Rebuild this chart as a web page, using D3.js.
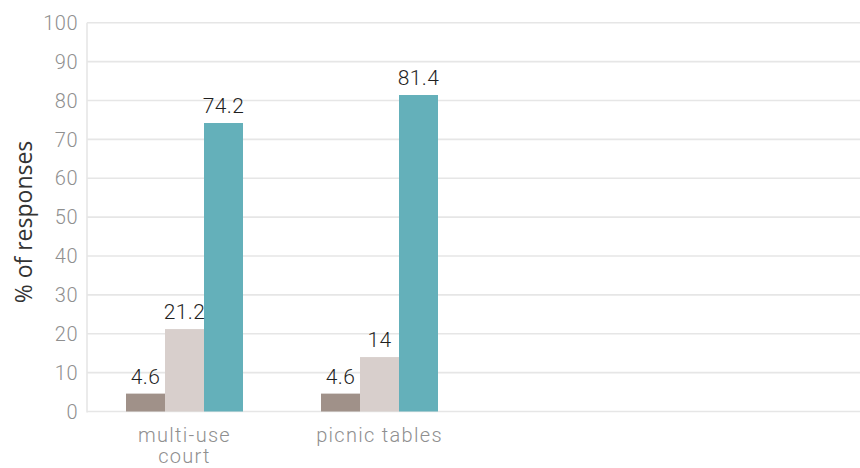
<!DOCTYPE html>
<html>
<head>
<meta charset="utf-8">
<script src="https://cdn.jsdelivr.net/npm/d3@7"></script>
<style>
  html, body { margin: 0; padding: 0; background: #fff; }
  svg { display: block; }
</style>
</head>
<body>
<svg id="chart" width="860" height="468"></svg>
<script>
// Categories on the x axis (the last two slots are empty)
const categories = ["multi-use court", "picnic tables", "", " "];
const categoryLines = [["multi-use", "court"], ["picnic tables"], [], []];
// Three response series per category
const seriesNames = ["s1", "s2", "s3"];
const seriesValues = [
  [4.6, 21.2, 74.2],
  [4.6, 14, 81.4]
];
const seriesColors = ["#a09189", "#d8cfcc", "#64b0ba"];
const yTicks = [0, 10, 20, 30, 40, 50, 60, 70, 80, 90, 100];

const svg = d3.select("#chart");
const plotLeft = 87, plotRight = 867, plotTop = 22.7, plotBottom = 411.5;

const x = d3.scaleBand().domain(categories).range([plotLeft, plotRight])
  .paddingInner(0.4).paddingOuter(0.2);
const xs = d3.scaleBand().domain(seriesNames).range([0, x.bandwidth()]).padding(0);
const y = d3.scaleLinear().domain([0, 100]).range([plotBottom, plotTop]);

// Gridlines
svg.append("g").selectAll("line").data(yTicks).join("line")
  .attr("x1", plotLeft).attr("x2", 860)
  .attr("y1", d => y(d)).attr("y2", d => y(d))
  .attr("stroke", "#e6e6e6").attr("stroke-width", 1.6);

// Y axis line
svg.append("line").attr("x1", plotLeft).attr("x2", plotLeft)
  .attr("y1", plotTop).attr("y2", plotBottom + 1)
  .attr("stroke", "#e6e6e6").attr("stroke-width", 1.6);

// Y tick labels
svg.append("g").selectAll("text").data(yTicks).join("text")
  .attr("x", 78).attr("y", d => y(d))
  .attr("dy", "0.36em")
  .attr("text-anchor", "end")
  .attr("font-family", "Roboto, sans-serif")
  .attr("font-size", 20).attr("font-weight", 300)
  .attr("letter-spacing", 0.5)
  .attr("fill", "#8f8f8f")
  .text(d => d);

// Y axis title
svg.append("text")
  .attr("transform", `translate(32, 222) rotate(-90)`)
  .attr("text-anchor", "middle")
  .attr("font-family", "'Open Sans', sans-serif")
  .attr("font-size", 23)
  .attr("fill", "#333")
  .text("% of responses");

// Bars and value labels
const groups = svg.append("g").selectAll("g").data(seriesValues).join("g")
  .attr("transform", (d, i) => `translate(${x(categories[i])},0)`);

groups.selectAll("rect").data(d => d).join("rect")
  .attr("x", (d, j) => xs(seriesNames[j]))
  .attr("width", xs.bandwidth())
  .attr("y", d => y(d))
  .attr("height", d => y(0) - y(d))
  .attr("fill", (d, j) => seriesColors[j]);

groups.selectAll("text").data(d => d).join("text")
  .attr("x", (d, j) => xs(seriesNames[j]) + xs.bandwidth() / 2)
  .attr("y", d => y(d) - 10)
  .attr("text-anchor", "middle")
  .attr("font-family", "Roboto, sans-serif")
  .attr("font-size", 21).attr("font-weight", 300)
  .attr("letter-spacing", 0.4)
  .attr("fill", "#1f1f1f")
  .text(d => d);

// Category labels
const cat = svg.append("g").selectAll("text").data(categories).join("text")
  .attr("x", d => x(d) + x.bandwidth() / 2)
  .attr("y", 442)
  .attr("text-anchor", "middle")
  .attr("font-family", "Roboto, sans-serif")
  .attr("font-size", 20).attr("font-weight", 300)
  .attr("letter-spacing", 1.3)
  .attr("fill", "#8f8f8f");
cat.selectAll("tspan").data((d, i) => categoryLines[i]).join("tspan")
  .attr("x", function() { return d3.select(this.parentNode).attr("x"); })
  .attr("dy", (d, k) => k === 0 ? 0 : 21)
  .text(d => d);
</script>
</body>
</html>
